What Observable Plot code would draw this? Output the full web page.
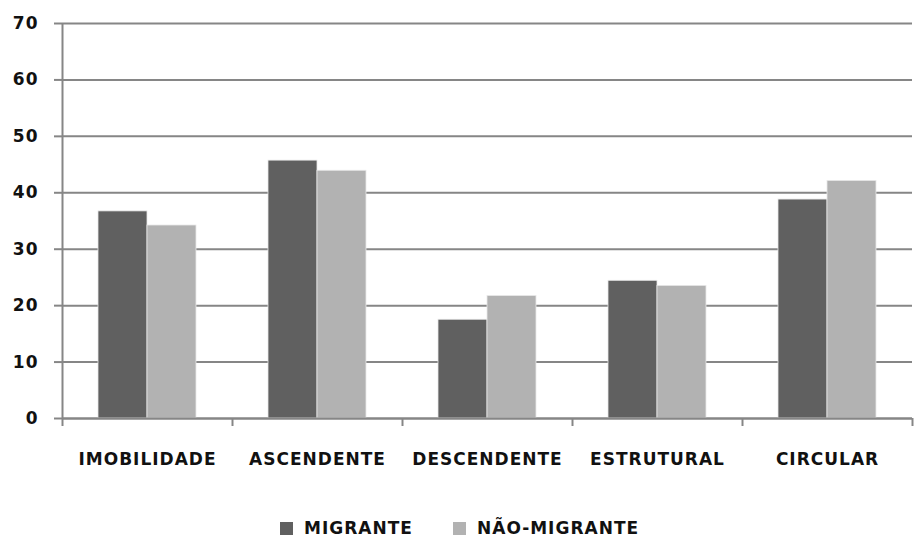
<!DOCTYPE html>
<html>
<head>
<meta charset="utf-8">
<script src="https://cdn.jsdelivr.net/npm/d3@7"></script>
<script src="https://cdn.jsdelivr.net/npm/@observablehq/plot@0.6"></script>
<style>
  html, body { margin: 0; padding: 0; background: #fff; }
  body { width: 918px; height: 552px; overflow: hidden; font-family: "DejaVu Sans", sans-serif; }
  #legend { position: relative; height: 72px; }
  .item { position: absolute; top: 38px; display: flex; align-items: center; font-size: 17px; font-weight: 700; letter-spacing: 1px; color: #111; }
  .sw { width: 13px; height: 13px; margin-right: 11px; }
  svg text { letter-spacing: 1px; }
</style>
</head>
<body>
<div id="chart"></div>
<div id="legend"></div>
<script>
const categories = ["IMOBILIDADE", "ASCENDENTE", "DESCENDENTE", "ESTRUTURAL", "CIRCULAR"];
const series = ["MIGRANTE", "NÃO-MIGRANTE"];
const migrante = [36.7, 45.7, 17.5, 24.4, 38.8];
const naoMigrante = [34.2, 43.9, 21.7, 23.5, 42.1];
const yTicks = [0, 10, 20, 30, 40, 50, 60, 70];
const colors = ["#606060", "#b2b2b2"];

const data = [];
categories.forEach((c, i) => {
  data.push({cat: c, serie: series[0], value: migrante[i]});
  data.push({cat: c, serie: series[1], value: naoMigrante[i]});
});

const font = {fontSize: 17, fontWeight: 700, fontFamily: "DejaVu Sans, sans-serif"};

const chart = Plot.plot({
  width: 918,
  height: 480,
  marginTop: 23,
  marginBottom: 62,
  marginLeft: 62,
  marginRight: 6,
  style: {fontFamily: "DejaVu Sans, sans-serif", fontSize: "17px", fontWeight: 700, color: "#111", background: "#fff"},
  x: {domain: categories, padding: 0, label: null},
  y: {domain: [0, 70], label: null},
  color: {domain: series, range: colors},
  marks: [
    Plot.ruleY(yTicks, {stroke: "#868686", strokeWidth: 2}),
    Plot.barY(data.filter(d => d.serie === series[0]), {x: "cat", y: "value", fill: "serie", insetLeft: 36, insetRight: 85, stroke: "#e8e8e8", strokeWidth: 0.8}),
    Plot.barY(data.filter(d => d.serie === series[1]), {x: "cat", y: "value", fill: "serie", insetLeft: 85, insetRight: 36, stroke: "#e8e8e8", strokeWidth: 0.8}),
    Plot.ruleY([0], {stroke: "#868686", strokeWidth: 2}),
    Plot.ruleX([categories[0]], {x: d => d, dx: -85, y1: 0, y2: 70, stroke: "#868686", strokeWidth: 2}),
    Plot.ruleX(categories, {x: d => d, dx: -85, y1: 0, y2: 0, insetBottom: -8, stroke: "#868686", strokeWidth: 2}),
    Plot.ruleX([categories[4]], {x: d => d, dx: 85, y1: 0, y2: 0, insetBottom: -8, stroke: "#868686", strokeWidth: 2}),
    Plot.axisY({ticks: yTicks, tickSize: 8, tickPadding: 16, stroke: "#868686", strokeWidth: 2, ...font, fill: "#111", label: null}),
    Plot.axisX({tickSize: 0, tickPadding: 34, ...font, fill: "#111", label: null})
  ]
});
document.getElementById("chart").appendChild(chart);

const legend = document.getElementById("legend");
const lx = [280, 453];
series.forEach((s, i) => {
  const it = document.createElement("div");
  it.className = "item";
  it.style.left = lx[i] + "px";
  const sw = document.createElement("span");
  sw.className = "sw";
  sw.style.background = colors[i];
  it.appendChild(sw);
  it.appendChild(document.createTextNode(s));
  legend.appendChild(it);
});
</script>
</body>
</html>
